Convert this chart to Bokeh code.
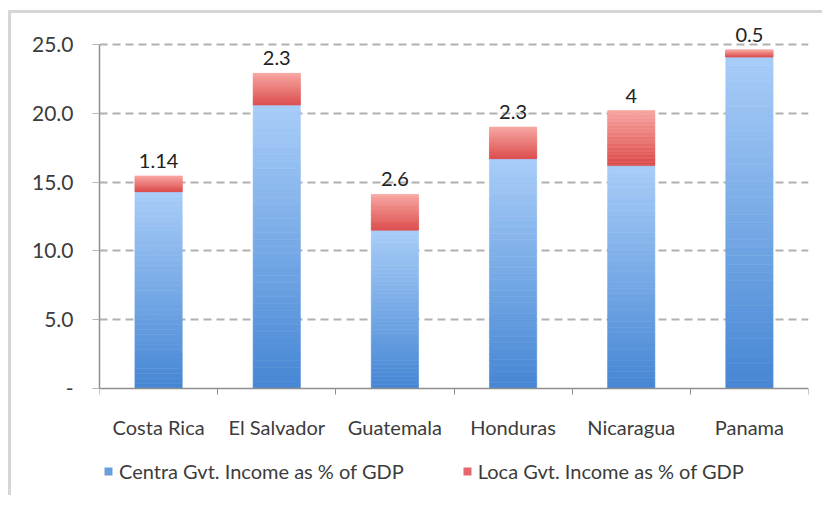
from bokeh.plotting import figure
from bokeh.models import (Range1d, FixedTicker, Legend, LegendItem, ColumnDataSource)
from bokeh.core.properties import value
from bokeh.embed import file_html
from bokeh.resources import INLINE

countries = ["Costa Rica", "El Salvador", "Guatemala", "Honduras", "Nicaragua", "Panama"]
central = [14.3, 20.6, 11.5, 16.7, 16.2, 24.1]
local = [1.14, 2.3, 2.6, 2.3, 4.0, 0.5]
local_labels = ["1.14", "2.3", "2.6", "2.3", "4", "0.5"]
y_ticks = [0, 5, 10, 15, 20, 25]
y_tick_labels = ["-", "5.0", "10.0", "15.0", "20.0", "25.0"]

FONT = "Lato"
FS = "20px"
TEXT_COLOR = "#3c3c3c"
AXIS_COLOR = "#8e8e8e"

def lerp_color(c1, c2, t):
    a = [int(c1[i:i + 2], 16) for i in (1, 3, 5)]
    b = [int(c2[i:i + 2], 16) for i in (1, 3, 5)]
    return "#%02x%02x%02x" % tuple(round(a[k] + (b[k] - a[k]) * t) for k in range(3))

BLUE_TOP, BLUE_BOT = "#a8cdf8", "#4686d4"
RED_TOP, RED_BOT = "#f7a5a0", "#dc4a4a"

xs = [i + 0.5 for i in range(len(countries))]
totals = [c + l for c, l in zip(central, local)]

p = figure(width=814, height=485, min_border_left=88, min_border_top=0,
           min_border_right=17, min_border_bottom=0,
           x_range=Range1d(0, len(countries)), y_range=Range1d(-7.99, 27.25),
           output_backend="svg", toolbar_location=None,
           background_fill_color="white", border_fill_color="white", outline_line_color=None)
p.styles = {"margin-left": "8px", "margin-top": "10px",
            "border-left": "3px solid #d6d6d6", "border-top": "3px solid #d6d6d6"}

# gradient bars: slices derived from the data values
N = 40
bx, bb, bt, bc = [], [], [], []
for x, c, l in zip(xs, central, local):
    for k in range(N):
        bx.append(x); bb.append(c * k / N); bt.append(c * (k + 1) / N)
        bc.append(lerp_color(BLUE_BOT, BLUE_TOP, (k + 0.5) / N))
    for k in range(N):
        bx.append(x); bb.append(c + l * k / N); bt.append(c + l * (k + 1) / N)
        bc.append(lerp_color(RED_BOT, RED_TOP, (k + 0.5) / N))
p.vbar(x=bx, bottom=bb, top=bt, width=0.4, fill_color=bc, line_color=bc, line_width=0.6)

# legend proxies
r_blue = p.vbar(x=[xs[0]], bottom=[0], top=[0], width=0.4, fill_color="#6a9fdc", line_color=None)
r_red = p.vbar(x=[xs[0]], bottom=[0], top=[0], width=0.4, fill_color="#e3676b", line_color=None)

src = ColumnDataSource(dict(x=xs, y=totals, t=local_labels))
p.text(x="x", y="y", text="t", source=src, text_align="center", text_baseline="bottom",
       y_offset=-8, text_font=value(FONT), text_font_size=FS, text_color="#222222")

# axes
p.xaxis.fixed_location = 0
p.xaxis.ticker = FixedTicker(ticks=xs, minor_ticks=list(range(len(countries) + 1)))
p.xaxis.major_label_overrides = {x: c for x, c in zip(xs, countries)}
p.xaxis.major_tick_out = 0
p.xaxis.major_tick_in = 0
p.xaxis.minor_tick_out = 6
p.xaxis.minor_tick_in = 0
p.xaxis.minor_tick_line_color = AXIS_COLOR
p.xaxis.axis_line_color = AXIS_COLOR
p.xaxis.axis_line_width = 1.5
p.xaxis.major_label_standoff = 20
p.xaxis.major_label_text_font = FONT
p.xaxis.major_label_text_font_size = FS
p.xaxis.major_label_text_color = TEXT_COLOR

p.yaxis.ticker = FixedTicker(ticks=y_ticks)
p.yaxis.bounds = (0, 25)
p.yaxis.major_label_overrides = {t: s for t, s in zip(y_ticks, y_tick_labels)}
p.yaxis.major_tick_out = 7
p.yaxis.major_tick_in = 0
p.yaxis.major_tick_line_color = "#b5b5b5"
p.yaxis.minor_tick_line_color = None
p.yaxis.axis_line_color = AXIS_COLOR
p.yaxis.axis_line_width = 1.5
p.yaxis.major_label_standoff = 19
p.yaxis.major_label_text_font = FONT
p.yaxis.major_label_text_font_size = "21px"
p.yaxis.major_label_text_color = TEXT_COLOR

p.xgrid.grid_line_color = None
p.ygrid.ticker = FixedTicker(ticks=y_ticks[1:])
p.ygrid.grid_line_color = "#b0b0b0"
p.ygrid.grid_line_dash = "8 5"
p.ygrid.grid_line_width = 2

legend = Legend(items=[
    LegendItem(label="Centra Gvt. Income as % of GDP", renderers=[r_blue]),
    LegendItem(label="Loca Gvt. Income as % of GDP", renderers=[r_red]),
], orientation="horizontal", location=(4, 15),
   label_text_font=FONT, label_text_font_size=FS, label_text_color=TEXT_COLOR,
   glyph_width=10, glyph_height=10, label_standoff=6, spacing=58, padding=0, margin=0,
   border_line_color=None, background_fill_alpha=0)
p.add_layout(legend, "center")

open("out.html", "w").write(file_html(p, INLINE))
